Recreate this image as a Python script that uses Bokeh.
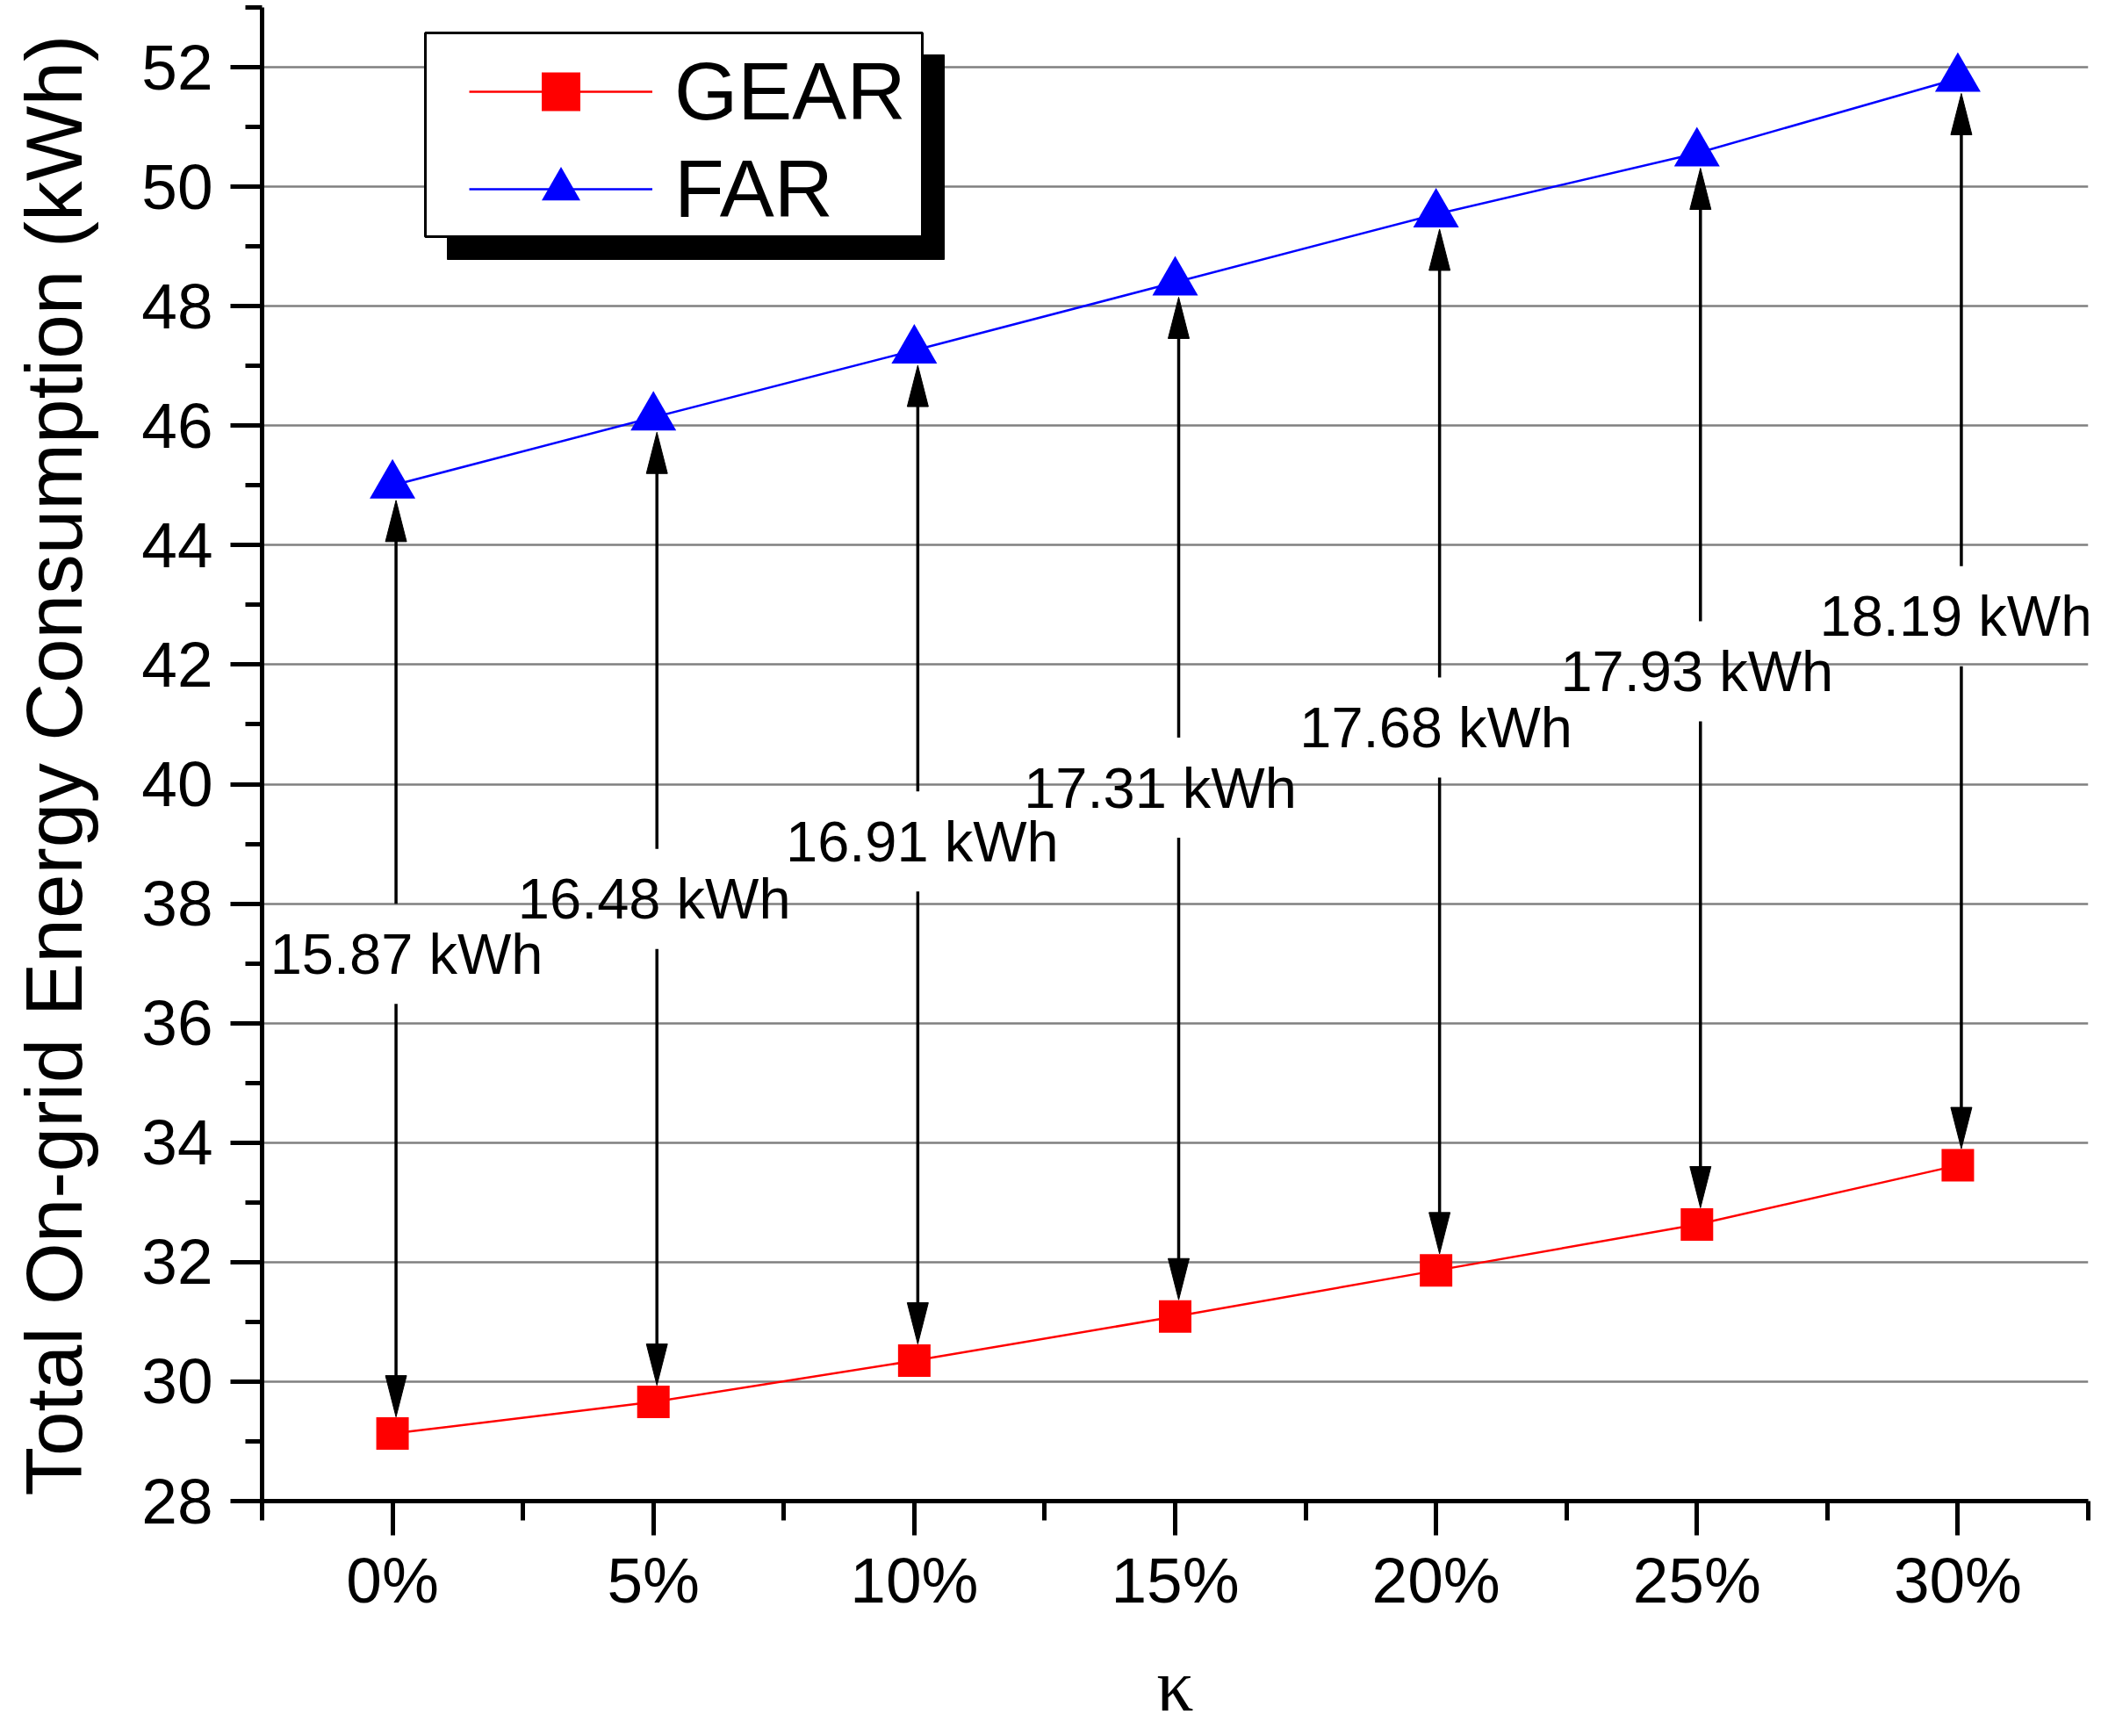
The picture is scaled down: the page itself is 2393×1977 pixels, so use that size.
from bokeh.plotting import figure
from bokeh.models import (Range1d, FixedTicker, Legend, LegendItem, BoxAnnotation,
                          ColumnDataSource)
from bokeh.core.properties import value
from bokeh.embed import file_html
from bokeh.resources import INLINE

# ---------------- data ----------------
kappa_labels = ["0%", "5%", "10%", "15%", "20%", "25%", "30%"]
gear = [29.13, 29.66, 30.35, 31.09, 31.86, 32.63, 33.62]
far = [45.00, 46.14, 47.26, 48.40, 49.54, 50.56, 51.81]
diff_text = ["15.87", "16.48", "16.91", "17.31", "17.68", "17.93", "18.19"]

# ---------------- layout (placement of the difference labels) ----------------
label_y = [37.16, 38.08, 39.04, 39.94, 40.95, 41.89, 42.81]
label_dx_px = [16, 1, 9, -17, 0, 0, -2]

FONT = "Liberation Sans"
W, H = 2385, 1969
ML, MR, MT, MB = 298, 7, 8, 260
XR = (-0.5, 6.5)
YR = (28, 53)
px_x = (W - ML - MR) / (XR[1] - XR[0])
px_y = (H - MT - MB) / (YR[1] - YR[0])

xs = list(range(len(kappa_labels)))

p = figure(width=W, height=H, output_backend="svg", toolbar_location=None,
           x_range=Range1d(*XR), y_range=Range1d(*YR),
           min_border_left=ML, min_border_right=MR, min_border_top=MT,
           min_border_bottom=MB)
p.outline_line_color = None
p.background_fill_color = "white"
p.border_fill_color = "white"

# grid
p.xgrid.grid_line_color = None
p.ygrid.grid_line_color = "#808080"
p.ygrid.grid_line_width = 2.5

# axes
p.xaxis.ticker = FixedTicker(ticks=xs, minor_ticks=[i - 0.5 for i in xs] + [xs[-1] + 0.5])
p.xaxis.major_label_overrides = {i: t for i, t in zip(xs, kappa_labels)}
p.yaxis.ticker = FixedTicker(ticks=list(range(28, 53, 2)), minor_ticks=list(range(29, 54, 2)))
for ax in (p.xaxis, p.yaxis):
    ax.axis_line_width = 5
    ax.axis_line_color = "black"
    ax.major_tick_line_width = 5
    ax.minor_tick_line_width = 5
    ax.major_tick_line_color = "black"
    ax.minor_tick_line_color = "black"
    ax.major_tick_in = 0
    ax.minor_tick_in = 0
    ax.major_label_text_font = FONT
    ax.major_label_text_font_size = "73px"
    ax.major_label_text_color = "black"
p.xaxis.major_tick_out = 39
p.xaxis.minor_tick_out = 22
p.yaxis.major_tick_out = 36
p.yaxis.minor_tick_out = 19
p.xaxis.major_label_standoff = 10
p.yaxis.major_label_standoff = 20

p.xaxis.axis_label = "κ"
p.xaxis.axis_label_text_font = "Liberation Serif"
p.xaxis.axis_label_text_font_size = "84px"
p.xaxis.axis_label_text_font_style = "normal"
p.xaxis.axis_label_text_color = "black"
p.xaxis.axis_label_standoff = 30

# one trailing no-break space nudges the centred title slightly downward, as in the original
p.yaxis.axis_label = "Total On-grid Energy Consumption (kWh)\u00a0"
p.yaxis.axis_label_text_font = FONT
p.yaxis.axis_label_text_font_size = "91px"
p.yaxis.axis_label_text_font_style = "normal"
p.yaxis.axis_label_text_color = "black"
p.yaxis.axis_label_standoff = 46

# series lines
gear_line = p.line(xs, gear, line_color="#ff0000", line_width=2.5)
far_line = p.line(xs, far, line_color="#0000ff", line_width=2.5)

# double arrows with a gap for the label
dx = 4 / px_x
head_len = 47 / px_y
head_hw = 12 / px_x
far_gap = 17 / px_y
gear_gap = 19 / px_y
lab_gap = 57 / px_y

ax_x = [x + dx for x in xs]
up_tip = [f - far_gap for f in far]
dn_tip = [g + gear_gap for g in gear]
p.segment(x0=ax_x, y0=[ly + lab_gap for ly in label_y], x1=ax_x,
          y1=[t - head_len + 0.05 for t in up_tip], line_color="black", line_width=3.5)
p.segment(x0=ax_x, y0=[ly - lab_gap for ly in label_y], x1=ax_x,
          y1=[t + head_len - 0.05 for t in dn_tip], line_color="black", line_width=3.5)
p.patches(xs=[[x - head_hw, x, x + head_hw] for x in ax_x],
          ys=[[t - head_len, t, t - head_len] for t in up_tip],
          fill_color="black", line_color="black", line_width=1)
p.patches(xs=[[x - head_hw, x, x + head_hw] for x in ax_x],
          ys=[[t + head_len, t, t + head_len] for t in dn_tip],
          fill_color="black", line_color="black", line_width=1)

# markers
gear_pts = p.scatter(xs, gear, marker="square", size=37, fill_color="#ff0000", line_color=None)
far_pts = p.scatter(xs, far, marker="triangle", size=52, fill_color="#0000ff", line_color=None)

# difference labels
src = ColumnDataSource(dict(x=[x + d / px_x for x, d in zip(xs, label_dx_px)], y=label_y,
                            t=[s + " kWh" for s in diff_text]))
p.text(x="x", y="y", text="t", source=src, text_align="center", text_baseline="middle",
       text_font=value(FONT), text_font_size="65px", text_color="black")

# legend box with shadow
shadow = BoxAnnotation(left=509, right=1075, top=62, bottom=295,
                       left_units="canvas", right_units="canvas", top_units="canvas",
                       bottom_units="canvas", fill_color="black", fill_alpha=1.0,
                       line_color="black", line_alpha=1.0)
box = BoxAnnotation(left=484, right=1050, top=37, bottom=269,
                    left_units="canvas", right_units="canvas", top_units="canvas",
                    bottom_units="canvas", fill_color="white", fill_alpha=1.0,
                    line_color="black", line_width=3, line_alpha=1.0)
p.add_layout(shadow)
p.add_layout(box)

legend = Legend(items=[LegendItem(label="GEAR", renderers=[gear_line, gear_pts]),
                       LegendItem(label="FAR", renderers=[far_line, far_pts])],
                location=(236, 1439), orientation="vertical",
                padding=0, margin=0, spacing=1,
                glyph_width=209, glyph_height=110, label_height=110, label_standoff=25,
                label_text_font=FONT, label_text_font_size="93px", label_text_color="black",
                border_line_color=None, background_fill_alpha=0)
p.add_layout(legend)

open("out.html", "w").write(file_html(p, INLINE))
